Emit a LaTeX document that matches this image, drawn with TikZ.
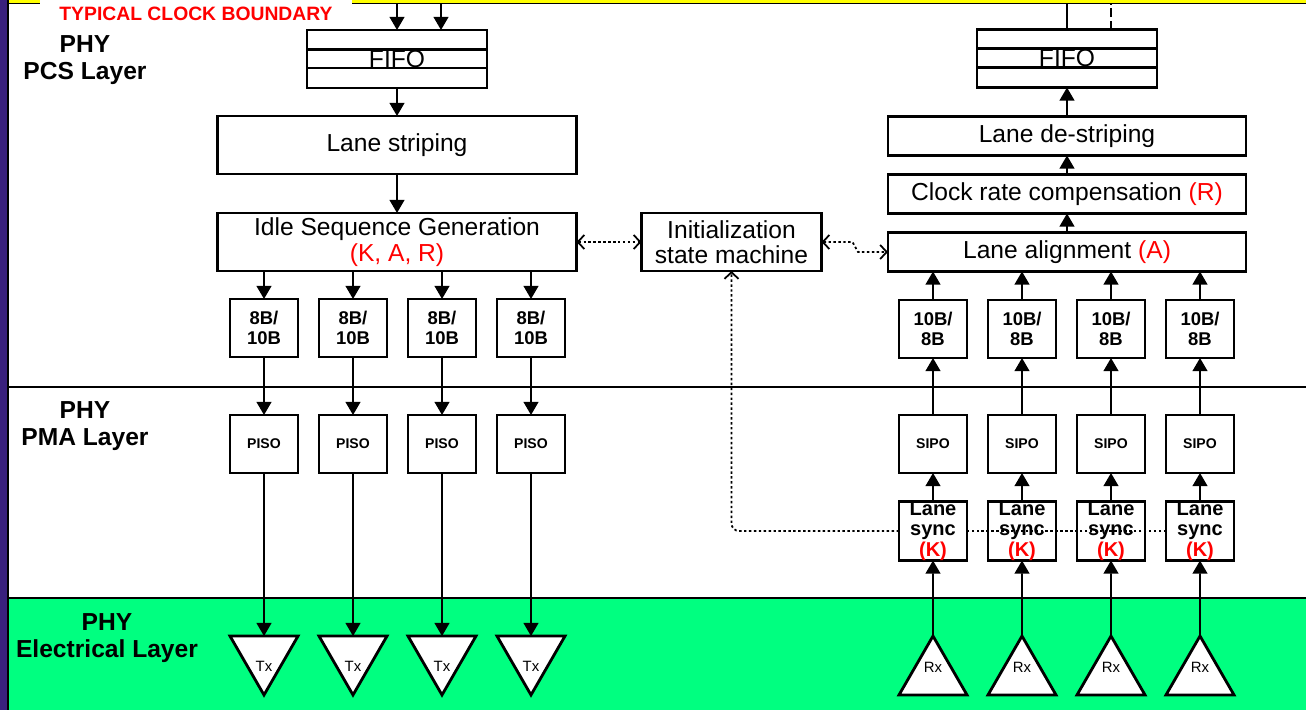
\documentclass[tikz,border=0pt]{standalone}
\usepackage{fontspec}
\setmainfont{Liberation Sans}
\usepackage{tikz}
\usetikzlibrary{positioning, calc, arrows.meta, shapes.geometric}

\definecolor{phygreen}{RGB}{0,255,128}
\definecolor{edgepurple}{RGB}{58,32,125}
\definecolor{boundyellow}{RGB}{255,255,0}

\tikzset{
  bigbox/.style={draw, line width=1.6pt, fill=white, inner sep=0pt, outer sep=0pt, align=center, font=\fontsize{14}{14.5}\selectfont},
  fifobox/.style={bigbox, minimum width=36mm, minimum height=11.6mm},
  txbox/.style={bigbox, minimum width=71.8mm, minimum height=11.6mm},
  rxbox/.style={bigbox, minimum width=71.6mm, minimum height=7.8mm},
  lanebox/.style={bigbox, minimum width=13.6mm, minimum height=11.6mm, font=\bfseries\fontsize{10.5}{11.4}\selectfont},
  serbox/.style={lanebox, font=\bfseries\fontsize{8}{9}\selectfont},
  syncbox/.style={lanebox, font=\bfseries\fontsize{11.4}{11.7}\selectfont},
  drvtri/.style={regular polygon, regular polygon sides=3, draw, line width=1.6pt, fill=white, minimum size=15.7mm, inner sep=0pt, outer sep=0pt, font=\fontsize{8.5}{9}\selectfont},
  layerlbl/.style={align=center, font=\bfseries\fontsize{14}{15.4}\selectfont},
  arr/.style={line width=0.9pt, arrows={-Triangle[width=8.5pt,length=7.5pt]}},
  wire/.style={line width=0.9pt},
  sig/.style={line width=1pt, dash pattern=on 1.4pt off 1.4pt},
  barb/.style={arrows={Straight Barb[length=3.8pt,width=8pt]-Straight Barb[length=3.8pt,width=8pt]}}
}

\begin{document}
\begin{tikzpicture}[x=0.2mm, y=-0.2mm]
  \useasboundingbox (0,0) rectangle (1306,710);
  \fill[edgepurple] (0,0) rectangle (8,710);
  \fill[white] (8,3) rectangle (1306,598);
  \fill[phygreen] (8,598) rectangle (1306,710);
  \fill[boundyellow] (8,0) rectangle (1306,3);
  \draw[line width=0.6pt] (8,3.5) -- (1306,3.5);
  \draw[line width=0.6pt] (8,0) -- (8,710);
  \draw[line width=1.3pt] (8,387) -- (1306,387);
  \draw[line width=1.3pt] (8,598) -- (1306,598);

  \node[fill=white, text=red, minimum width=62.4mm, minimum height=5.6mm, inner sep=0pt, font=\bfseries\fontsize{11}{12}\selectfont] (clkbound) at (196,14) {TYPICAL CLOCK BOUNDARY};

  \node[layerlbl] (pcs) at (85,60) {PHY\\PCS Layer};
  \node[layerlbl] (pma) at (85,426) {PHY\\PMA Layer};
  \node[layerlbl] (elec) at (107,638) {PHY\\Electrical Layer};

  \node[fifobox] (fifoL) at (397,59) {FIFO};
  \node[txbox, below=5.6mm of fifoL] (stripe) {Lane striping};
  \node[txbox, below=7.8mm of stripe] (idle) {Idle Sequence Generation\\\textcolor{red}{(K, A, R)}};
  \node[bigbox, minimum width=36mm, minimum height=11.6mm, right=13mm of idle] (initsm) {Initialization\\state machine};

  \node[rxbox] (align) at (1067,252) {Lane alignment \textcolor{red}{(A)}};
  \node[rxbox, above=3.8mm of align] (clkcomp) {Clock rate compensation \textcolor{red}{(R)}};
  \node[rxbox, above=3.8mm of clkcomp] (destripe) {Lane de-striping};
  \node[fifobox, above=5.8mm of destripe] (fifoR) {FIFO};

  \foreach \f in {fifoL,fifoR}{
    \foreach \t in {0.333,0.655}{
      \draw[line width=1.6pt] ($(\f.north west)!\t!(\f.south west)$) -- ($(\f.north east)!\t!(\f.south east)$);
    }
  }

  \coordinate (inA) at (397,4);
  \coordinate (inB) at (441,4);
  \coordinate (outA) at (1067,4);
  \coordinate (outB) at (1111,4);
  \draw[arr] (inA) -- (inA |- fifoL.north);
  \draw[arr] (inB) -- (inB |- fifoL.north);
  \draw[wire] (outA |- fifoR.north) -- (outA);
  \draw[wire, dash pattern=on 5pt off 2pt] (outB |- fifoR.north) -- (outB);

  \draw[arr] (fifoL) -- (stripe);
  \draw[arr] (stripe) -- (idle);
  \draw[arr] (align) -- (clkcomp);
  \draw[arr] (clkcomp) -- (destripe);
  \draw[arr] (destripe) -- (fifoR);

  \foreach \i/\x in {1/264,2/353,3/442,4/531}{
    \node[lanebox] (enc\i) at (\x,328) {8B/\\10B};
    \node[serbox] (piso\i) at (\x,444) {PISO};
    \node[drvtri, shape border rotate=180] (tx\i) at (\x,655.7) {\smash{\raisebox{-8.8pt}{Tx}}};
    \draw[arr] (idle.south -| enc\i.north) -- (enc\i);
    \draw[arr] (enc\i) -- (piso\i);
    \draw[arr] (piso\i) -- (tx\i.north);
  }

  \foreach \i/\x in {1/933,2/1022,3/1111,4/1200}{
    \node[lanebox] (dec\i) at (\x,329) {10B/\\8B};
    \node[serbox] (sipo\i) at (\x,444) {SIPO};
    \node[syncbox] (sync\i) at (\x,531) {Lane\\sync\\\textcolor{red}{(K)}};
    \node[drvtri] (rx\i) at (\x,675.3) {\smash{\raisebox{1.5pt}{Rx}}};
    \draw[arr] (rx\i.north) -- (sync\i);
    \draw[arr] (sync\i) -- (sipo\i);
    \draw[arr] (sipo\i) -- (dec\i);
    \draw[arr] (dec\i) -- (dec\i.north |- align.south);
  }

  \draw[sig, barb] (idle) -- (initsm);
  \draw[sig, barb] (initsm.east) -- ++(6.2mm,0) -- ([xshift=-6mm]align.west) -- (align.west);
  \draw[sig] (sync4.west) -- (sync1.east);
  \draw[sig, rounded corners=1.5mm, arrows={-Straight Barb[length=3.8pt,width=8pt]}] (sync1.west) -| (initsm.south);
\end{tikzpicture}
\end{document}
